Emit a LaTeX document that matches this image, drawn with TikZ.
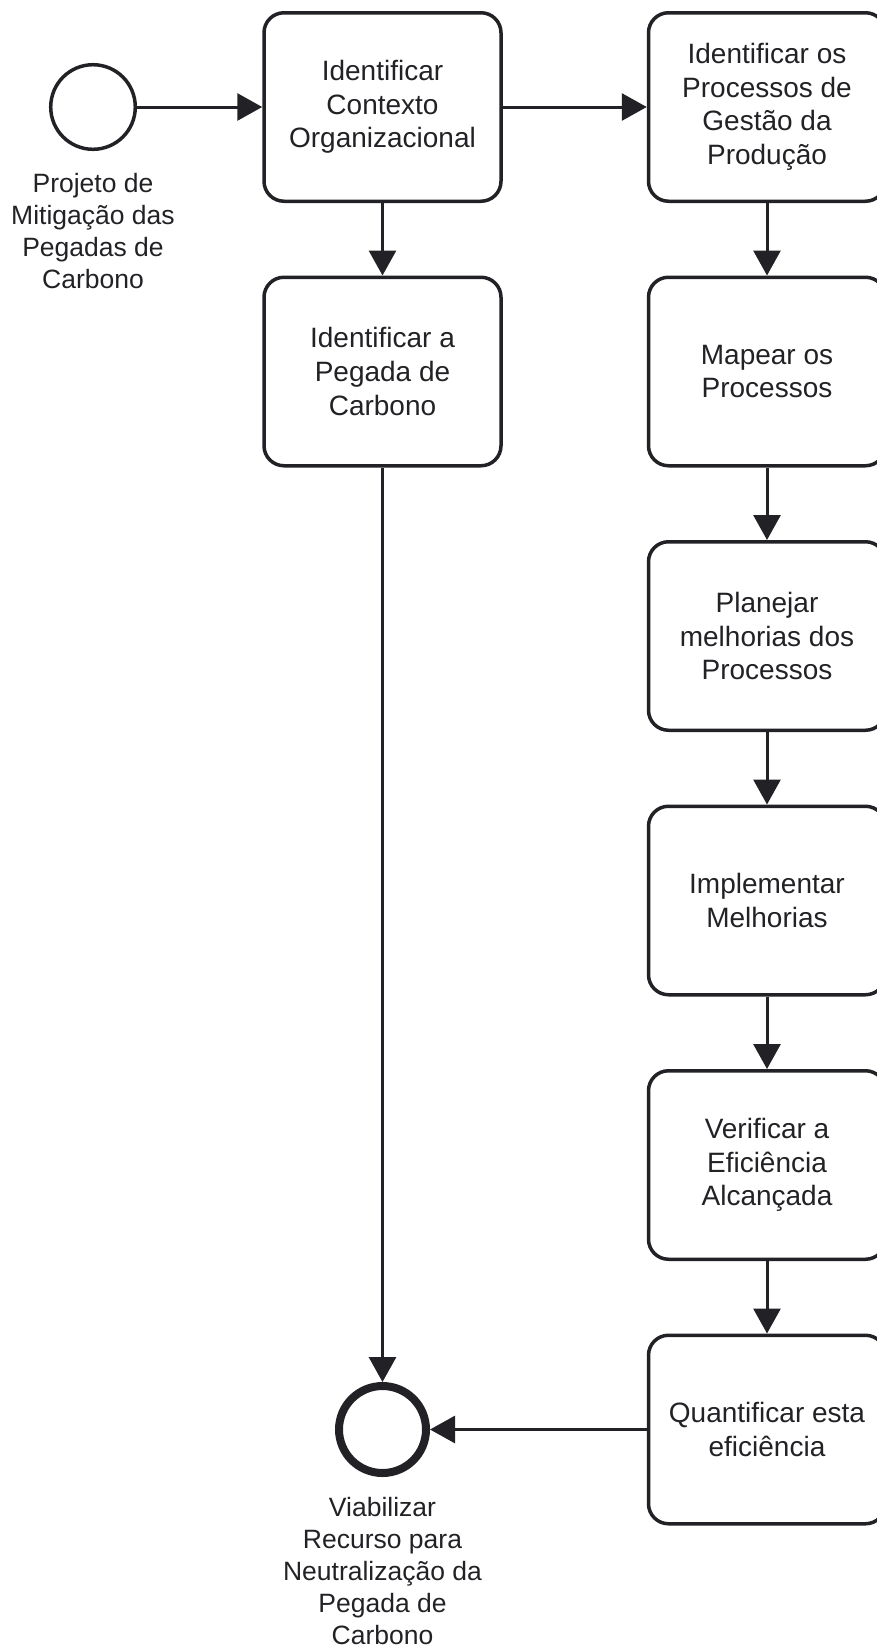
\documentclass[tikz,border=0pt]{standalone}
\usepackage{fontspec}
\setmainfont{Liberation Sans}
\usetikzlibrary{arrows.meta}
\definecolor{ink}{RGB}{34,34,38}
\begin{document}
\begin{tikzpicture}[x=0.5pt,y=-0.5pt,
  task/.style={draw=ink, line width=1.75pt, rounded corners=10pt,
    minimum width=118.5pt, minimum height=94.25pt, inner sep=0pt, align=center,
    font=\fontsize{14}{16.8}\selectfont, text=ink},
  startev/.style={circle, draw=ink, line width=1.75pt, minimum size=42.3pt, inner sep=0pt},
  endev/.style={circle, draw=ink, line width=4pt, minimum size=43.5pt, inner sep=0pt},
  evlabel/.style={align=center, inner sep=0pt, text=ink,
    font=\fontsize{13.25}{15.9}\selectfont},
  flow/.style={draw=ink, line width=1.5pt,
    -{Triangle[length=12.5pt, width=13.5pt]}}]
\useasboundingbox (0,0) rectangle (877,1650);
\clip (0,0) rectangle (877,1650);

% events
\node[startev] (start) at (93,107) {};
\node[evlabel] (startlbl) at (93,231) {Projeto de\\Mitigação das\\Pegadas de\\Carbono};
\node[endev] (finish) at (382.5,1429.5) {};
\node[evlabel] (finishlbl) at (382.5,1571) {Viabilizar\\Recurso para\\Neutralização da\\Pegada de\\Carbono};

% left column
\node[task] (ctx) at (382.5,107) {Identificar\\Contexto\\Organizacional};
\node[task] (pegada) at (382.5,371.5) {Identificar a\\Pegada de\\Carbono};

% right column (runs past the right edge of the page)
\node[task] (gestao) at (767,107) {Identificar os\\Processos de\\Gestão da\\Produção};
\node[task] (mapear) at (767,371.5) {Mapear os\\Processos};
\node[task] (planejar) at (767,636) {Planejar\\melhorias dos\\Processos};
\node[task] (implementar) at (767,900.5) {Implementar\\Melhorias};
\node[task] (verificar) at (767,1165) {Verificar a\\Eficiência\\Alcançada};
\node[task] (quantificar) at (767,1429.5) {Quantificar esta\\eficiência};

% sequence flows
\draw[flow] (start) -- (ctx);
\draw[flow] (ctx) -- (gestao);
\draw[flow] (ctx) -- (pegada);
\draw[flow] (pegada) -- (finish);
\draw[flow] (gestao) -- (mapear);
\draw[flow] (mapear) -- (planejar);
\draw[flow] (planejar) -- (implementar);
\draw[flow] (implementar) -- (verificar);
\draw[flow] (verificar) -- (quantificar);
\draw[flow] (quantificar) -- (finish);
\end{tikzpicture}
\end{document}
